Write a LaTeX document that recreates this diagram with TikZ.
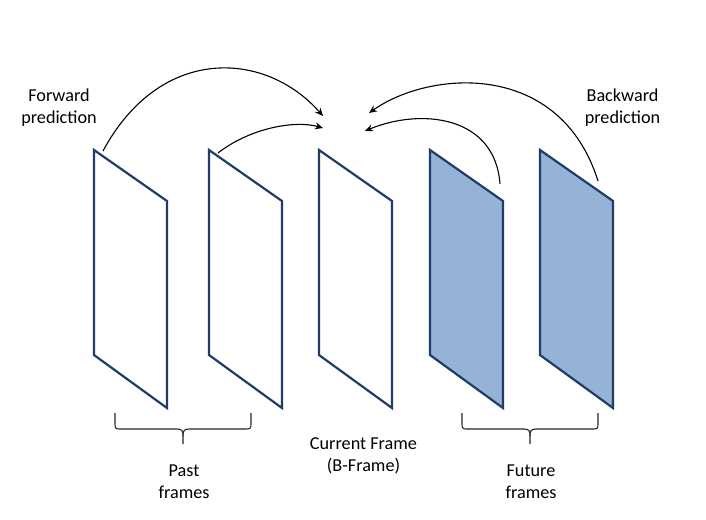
\documentclass[tikz,border=0pt]{standalone}
\usepackage{fontspec}
\setmainfont{Carlito}
\usetikzlibrary{arrows.meta}
\definecolor{edgeblue}{HTML}{1F3D66}
\definecolor{fillblue}{HTML}{95B3D7}
\begin{document}
\begin{tikzpicture}[x=1pt,y=-1pt,
  framebox/.style={draw=edgeblue, line width=2.2pt, line join=miter},
  pred/.style={draw=black, line width=1.1pt, -{Stealth[length=8pt,width=7pt]}},
  bracepath/.style={draw=black!85, line width=1.1pt},
  lbl/.style={font=\fontsize{18.2}{22}\selectfont, align=center, inner sep=0pt}]
\path[use as bounding box, fill=white] (0,0) rectangle (706,519);
% frames
\foreach \n/\L/\c in {1/94/white,2/209/white,3/319/white,4/430/fillblue,5/540/fillblue}{
  \draw[framebox, fill=\c] (\L,150) coordinate (f\n) -- (\L+73,201) -- (\L+73,408) -- (\L,355) -- cycle;
}
% arrow endpoints
\coordinate (s1) at (103,151);
\coordinate (t1) at (323,116);
\coordinate (s2) at (218,153);
\coordinate (t2) at (323,128);
\coordinate (s3) at (500,184);
\coordinate (t3) at (365,131);
\coordinate (s4) at (598,181);
\coordinate (t4) at (369,113);
\draw[pred] (s1) .. controls (160,45) and (265,50) .. (t1);
\draw[pred] (s2) .. controls (250,128) and (295,120) .. (t2);
\draw[pred] (s3) .. controls (495,115) and (420,108) .. (t3);
\draw[pred] (s4) .. controls (560,60) and (430,70) .. (t4);
% braces
\draw[bracepath] (115,413) -- (115,424) .. controls (115,429) and (116,429) .. (121,429) -- (177,429) .. controls (182,429) and (183,431) .. (183,436) -- (183,444);
\draw[bracepath] (251,413) -- (251,424) .. controls (251,429) and (250,429) .. (245,429) -- (189,429) .. controls (184,429) and (183,431) .. (183,436);
\draw[bracepath] (462,413) -- (462,424) .. controls (462,429) and (463,429) .. (468,429) -- (524,429) .. controls (529,429) and (530,431) .. (530,436) -- (530,444);
\draw[bracepath] (598,413) -- (598,424) .. controls (598,429) and (597,429) .. (592,429) -- (536,429) .. controls (531,429) and (530,431) .. (530,436);
% labels
\node[lbl] (fwd) at (59,107.5) {Forward\\prediction};
\node[lbl] (bwd) at (622.5,107.5) {Backward\\prediction};
\node[lbl] (cur) at (363.5,456) {Current Frame\\(B-Frame)};
\node[lbl] (past) at (184,481.5) {Past\\frames};
\node[lbl] (fut) at (531,481.5) {Future\\frames};
\end{tikzpicture}
\end{document}
